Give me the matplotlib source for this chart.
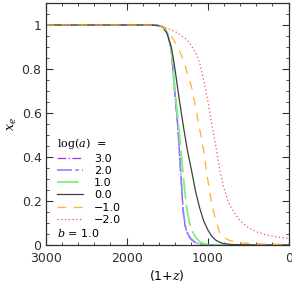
import matplotlib
matplotlib.use("Agg")
import matplotlib.pyplot as plt
from matplotlib.ticker import MultipleLocator, FuncFormatter

# (1+z) grid shared by all curves
one_plus_z = [3000, 2000, 1700, 1650, 1600, 1550, 1500, 1450, 1425, 1400, 1375, 1350,
              1325, 1300, 1275, 1250, 1225, 1200, 1150, 1100, 1050, 1000, 950, 900,
              850, 800, 750, 700, 650, 600, 500, 400, 300, 200, 100, 0]

xe_a3 = [1, 1, 1, 0.999, 0.997, 0.99, 0.965, 0.89, 0.78, 0.66, 0.565, 0.43,
         0.28, 0.14, 0.08, 0.05, 0.035, 0.024, 0.01, 0.003, 0.001, 0, 0, 0,
         0, 0, 0, 0, 0, 0, 0, 0, 0, 0, 0, 0]
xe_a2 = [1, 1, 1, 0.999, 0.997, 0.99, 0.966, 0.892, 0.785, 0.67, 0.575, 0.44,
         0.29, 0.15, 0.085, 0.055, 0.038, 0.026, 0.011, 0.004, 0.0015, 0.0005, 0, 0,
         0, 0, 0, 0, 0, 0, 0, 0, 0, 0, 0, 0]
xe_a1 = [1, 1, 1, 0.999, 0.997, 0.99, 0.967, 0.895, 0.8, 0.69, 0.6, 0.51,
         0.41, 0.31, 0.22, 0.15, 0.1, 0.07, 0.035, 0.015, 0.006, 0.003, 0.002, 0.001,
         0.0005, 0, 0, 0, 0, 0, 0, 0, 0, 0, 0, 0]
xe_a0 = [1, 1, 1, 0.999, 0.997, 0.99, 0.96, 0.90, 0.85, 0.79, 0.725, 0.66,
         0.6, 0.54, 0.485, 0.43, 0.385, 0.34, 0.245, 0.17, 0.11, 0.07, 0.04, 0.022,
         0.012, 0.006, 0.004, 0.002, 0.0015, 0.001, 0.0005, 0, 0, 0, 0, 0]
xe_am1 = [1, 1, 1, 0.999, 0.997, 0.99, 0.975, 0.95, 0.935, 0.92, 0.903, 0.885,
          0.863, 0.84, 0.81, 0.78, 0.75, 0.72, 0.63, 0.53, 0.43, 0.30, 0.19, 0.11,
          0.055, 0.035, 0.024, 0.017, 0.013, 0.01, 0.007, 0.005, 0.004, 0.003, 0.003, 0.003]
xe_am2 = [1, 1, 1, 1, 0.998, 0.993, 0.985, 0.978, 0.974, 0.97, 0.964, 0.958,
          0.951, 0.945, 0.938, 0.93, 0.918, 0.905, 0.875, 0.83, 0.75, 0.66, 0.55, 0.45,
          0.34, 0.26, 0.20, 0.165, 0.135, 0.11, 0.08, 0.06, 0.048, 0.04, 0.034, 0.03]

labels = ["3.0", "2.0", "1.0", "0.0", "\u22121.0", "\u22122.0"]

plt.rcParams['font.family'] = ['DejaVu Sans']
plt.rcParams['font.size'] = 9
plt.rcParams['mathtext.fontset'] = 'dejavuserif'

fig = plt.figure(figsize=(2.92, 2.85), dpi=100)
ax = fig.add_axes([0.1565, 0.1404, 0.832, 0.849])

ax.plot(one_plus_z, xe_a3, color="#a030f0", lw=0.9, ls=(0, (7, 2, 1, 2)), label=labels[0])
ax.plot(one_plus_z, xe_a2, color="#8888ff", lw=1.2, ls=(0, (9, 2, 2, 2)), label=labels[1])
ax.plot(one_plus_z, xe_a1, color="#80f080", lw=1.3, ls=(0, (12, 3)), label=labels[2])
ax.plot(one_plus_z, xe_a0, color="#404040", lw=0.9, ls="-", label=labels[3])
ax.plot(one_plus_z, xe_am1, color="#ffb030", lw=0.9, ls=(0, (7, 6)), label=labels[4])
ax.plot(one_plus_z, xe_am2, color="#ff5050", lw=0.9, ls=(0, (1, 2)), label=labels[5])

ax.set_xlim(3000, 0)
ax.set_ylim(0, 1.1)
ax.xaxis.set_major_locator(MultipleLocator(1000))
ax.xaxis.set_minor_locator(MultipleLocator(200))
ax.yaxis.set_major_locator(MultipleLocator(0.2))
ax.yaxis.set_minor_locator(MultipleLocator(0.05))
ax.yaxis.set_major_formatter(FuncFormatter(lambda v, p: "%g" % round(v, 2)))
ax.tick_params(which="both", direction="in", top=True, right=True, colors="#303030")
ax.tick_params(which="major", length=5, width=0.8, pad=3)
ax.tick_params(axis="x", which="major", pad=5)
ax.tick_params(which="minor", length=2.5, width=0.6)
for s in ax.spines.values():
    s.set_color("#303030")
    s.set_linewidth(0.9)

ax.set_xlabel("(1+$z$)", labelpad=2)
ax.set_ylabel("$x_e$", labelpad=2)

leg = ax.legend(loc="lower left", bbox_to_anchor=(0.03, 0.065), frameon=False,
                title="log($a$)  =", handlelength=2.3, handletextpad=1.0,
                labelspacing=0.2, borderaxespad=0, fontsize=8,
                title_fontproperties={'family': 'DejaVu Serif', 'size': 8})
leg._legend_box.align = "left"
for t in leg.get_texts():
    t.set_ha("right")

ax.text(0.045, 0.035, "$b$ = 1.0", transform=ax.transAxes, fontsize=8)

fig.savefig("out.png", dpi=100)
